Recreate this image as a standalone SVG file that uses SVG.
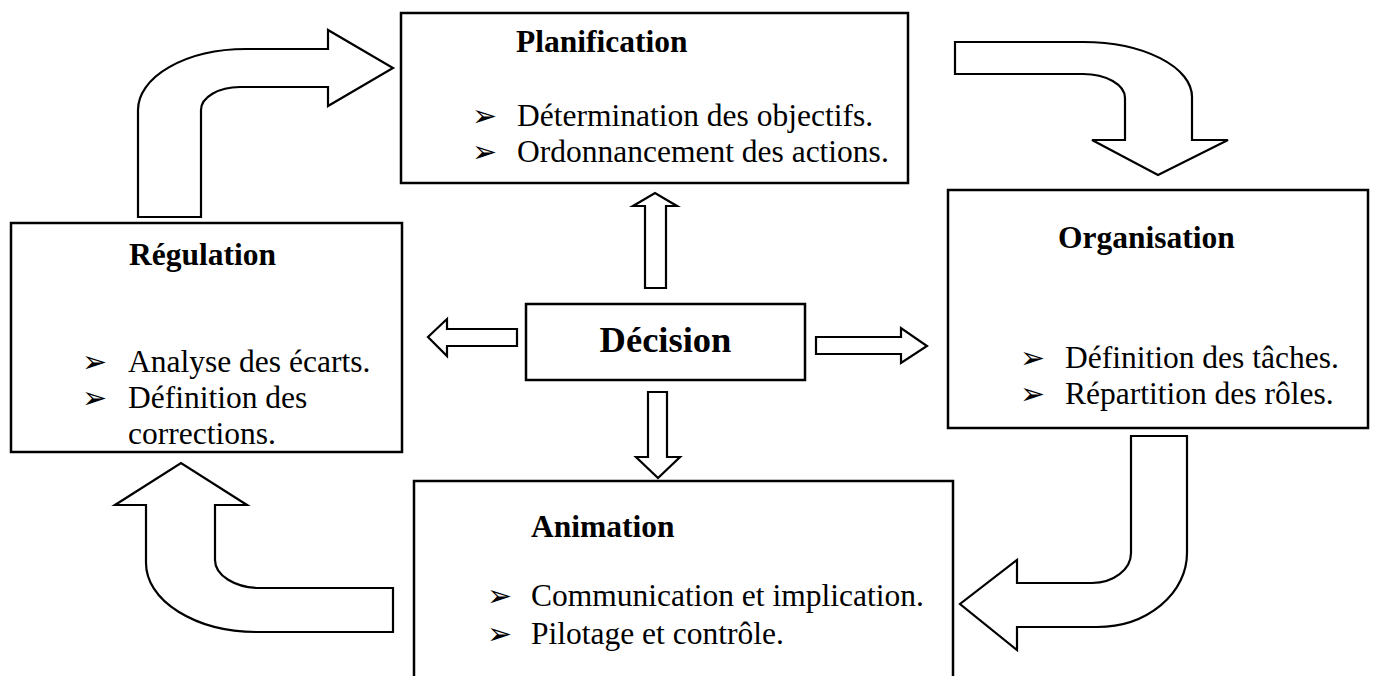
<svg xmlns="http://www.w3.org/2000/svg" width="1373" height="676" viewBox="0 0 1373 676">
  <style>
    .box { fill: #ffffff; stroke: #000000; stroke-width: 2.5; }
    .arrow { fill: #ffffff; stroke: #000000; stroke-width: 2.2; stroke-linejoin: miter; }
    .title { font-family: "Liberation Serif", "Times New Roman", serif; font-weight: bold; font-size: 31.5px; fill: #000000; }
    .big { font-family: "Liberation Serif", "Times New Roman", serif; font-weight: bold; font-size: 36.5px; fill: #000000; }
    .item { font-family: "Liberation Serif", "Times New Roman", serif; font-size: 31.5px; fill: #000000; }
    .bullet { font-family: "DejaVu Sans", sans-serif; font-size: 30px; fill: #000000; }
  </style>
  <rect width="1373" height="676" fill="#ffffff"/>

  <!-- connectors: cycle arrows between stages and straight arrows from the decision box -->
  <g id="connectors">
    <path id="arrow-regulation-planification" class="arrow" d="M138,217 L138,110 A108,61 0 0 1 246,49 L328,49 L328,30 L393,68 L328,106 L328,87 L240,87 A39,23 0 0 0 201,110 L201,217 Z"/>
    <path id="arrow-planification-organisation" class="arrow" d="M955,42 L1083,42 A109,55 0 0 1 1192,97 L1192,140 L1228,140 L1158,175 L1092,140 L1125,140 L1125,98 A42,24 0 0 0 1083,74 L955,74 Z"/>
    <path id="arrow-organisation-animation" class="arrow" d="M1131,436 L1187,436 L1187,553 A90,74 0 0 1 1097,627 L1017,627 L1017,650 L960,604 L1017,560 L1017,583 L1092,583 A39,30 0 0 0 1131,553 Z"/>
    <path id="arrow-animation-regulation" class="arrow" d="M393,588 L393,632 L257,632 A111,69 0 0 1 146,563 L146,505 L115,505 L181,463 L247,505 L215,505 L215,560 A45,28 0 0 0 260,588 Z"/>
    <path id="arrow-decision-up" class="arrow" d="M645,288 L645,206 L633,206 L655,193 L677,206 L666,206 L666,288 Z"/>
    <path id="arrow-decision-down" class="arrow" d="M648,392 L667,392 L667,457 L680,457 L658,478 L636,457 L648,457 Z"/>
    <path id="arrow-decision-left" class="arrow" d="M517,329 L517,346 L447,346 L447,356 L428,337 L447,319 L447,329 Z"/>
    <path id="arrow-decision-right" class="arrow" d="M816,337 L901,337 L901,328 L927,346 L901,363 L901,354 L816,354 Z"/>
  </g>

  <g id="planification">
    <rect class="box" x="401" y="13" width="507" height="170"/>
    <text class="title" x="516" y="52">Planification</text>
    <text class="bullet" x="472" y="126">➢</text>
    <text class="item" x="517" y="126">Détermination des objectifs.</text>
    <text class="bullet" x="472" y="162">➢</text>
    <text class="item" x="517" y="162">Ordonnancement des actions.</text>
  </g>

  <g id="regulation">
    <rect class="box" x="11" y="223" width="391" height="229"/>
    <text class="title" x="129" y="265">Régulation</text>
    <text class="bullet" x="82" y="372">➢</text>
    <text class="item" x="128" y="372">Analyse des écarts.</text>
    <text class="bullet" x="82" y="408">➢</text>
    <text class="item" x="128" y="408">Définition des</text>
    <text class="item" x="128" y="444">corrections.</text>
  </g>

  <g id="organisation">
    <rect class="box" x="948" y="190" width="420" height="238"/>
    <text class="title" x="1058" y="248">Organisation</text>
    <text class="bullet" x="1020" y="368">➢</text>
    <text class="item" x="1065" y="368">Définition des tâches.</text>
    <text class="bullet" x="1020" y="404">➢</text>
    <text class="item" x="1065" y="404">Répartition des rôles.</text>
  </g>

  <g id="decision">
    <rect class="box" x="526" y="304" width="279" height="76"/>
    <text class="big" x="665.5" y="352" text-anchor="middle">Décision</text>
  </g>

  <g id="animation">
    <rect class="box" x="414" y="481" width="539" height="230"/>
    <text class="title" x="531" y="537">Animation</text>
    <text class="bullet" x="487" y="606">➢</text>
    <text class="item" x="531" y="606">Communication et implication.</text>
    <text class="bullet" x="487" y="644">➢</text>
    <text class="item" x="531" y="644">Pilotage et contrôle.</text>
  </g>
</svg>
